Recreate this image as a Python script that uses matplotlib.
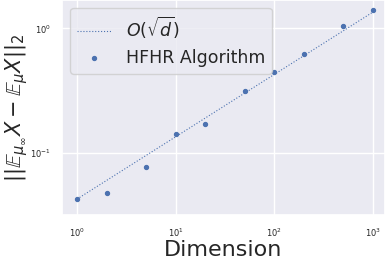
import numpy as np
import matplotlib
matplotlib.use('Agg')
import matplotlib.pyplot as plt
import seaborn as sns

dims = [1, 2, 5, 10, 20, 50, 100, 200, 500, 1000]
hfhr_err = [0.0428, 0.0475, 0.0773, 0.142, 0.171, 0.315, 0.450, 0.619, 1.037, 1.40]
sqrt_ref = [0.0428, 0.0605, 0.0957, 0.1353, 0.1914, 0.3027, 0.428, 0.6053, 0.957, 1.353]

sns.set_theme(style='darkgrid')

fig = plt.figure(figsize=(3.85, 2.59), dpi=100)
ax = fig.add_axes([62 / 385, 44 / 259, 323 / 385, 215 / 259])

ax.plot(dims, sqrt_ref, linestyle=':', linewidth=0.8, color='#4c72b0', label=r'$O(\sqrt{d})$')
ax.scatter(dims, hfhr_err, s=8, color='#4c72b0', label='HFHR Algorithm', zorder=3)

ax.set_xscale('log')
ax.set_yscale('log')
ax.set_xlim(10 ** -0.152, 10 ** 3.12)
ax.set_ylim(10 ** -1.496, 10 ** 0.227)
ax.tick_params(labelsize=6, pad=2)
ax.minorticks_off()

ax.set_xlabel('Dimension', fontsize=16, labelpad=1)
ax.set_ylabel(r'$||\mathbb{E}_{\mu_\infty} X - \mathbb{E}_{\mu} X||_2$', fontsize=15)
ax.yaxis.set_label_coords(-0.1, 0.5)
ax.legend(loc='upper left', fontsize=12.5, bbox_to_anchor=(0.025, 0.963), borderaxespad=0,
          handlelength=2.0, handletextpad=0.8, labelspacing=0.45)

fig.savefig('out.png', dpi=100)
